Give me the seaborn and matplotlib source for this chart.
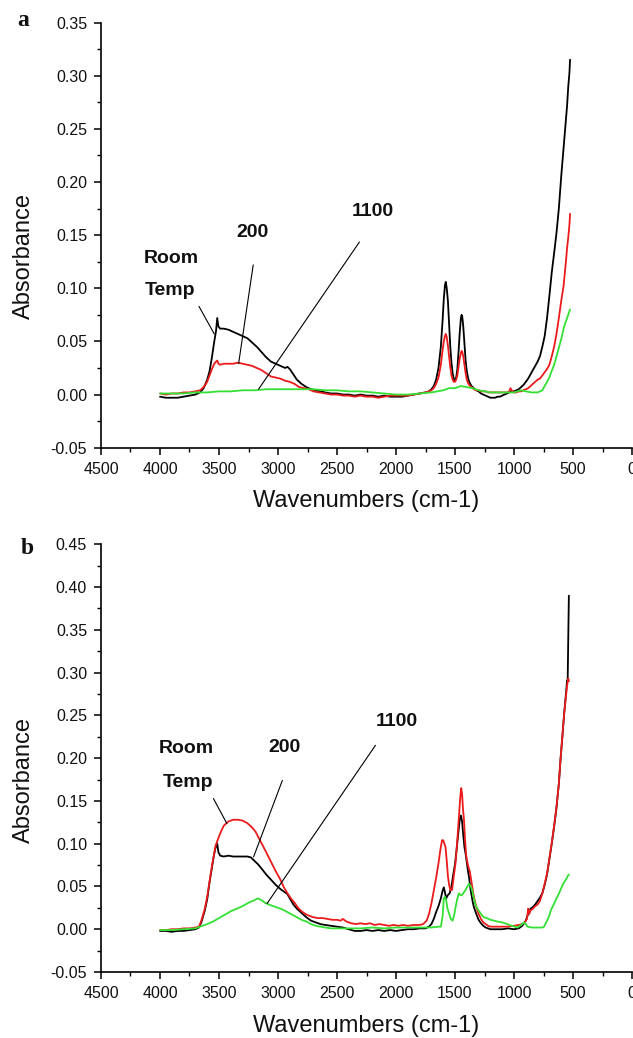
import numpy as np
import pandas as pd
import matplotlib
matplotlib.use("Agg")
import matplotlib.pyplot as plt
from matplotlib.ticker import MultipleLocator, FormatStrFormatter
import seaborn as sns

# ---------------- panel a : absorbance spectra ----------------
a_rt_wn = [4000, 3950, 3900, 3850, 3800, 3750, 3700, 3660, 3630, 3600, 3580, 3560, 3540, 3525, 3515,
           3505, 3490, 3460, 3420, 3380, 3340, 3300, 3260, 3220, 3180, 3140, 3100, 3060, 3020, 2980,
           2940, 2920, 2900, 2870, 2840, 2800, 2760, 2720, 2680, 2640, 2600, 2550, 2500, 2450, 2400,
           2350, 2300, 2250, 2200, 2150, 2100, 2050, 2000, 1950, 1900, 1850, 1800, 1750, 1720, 1700,
           1680, 1660, 1640, 1620, 1605, 1595, 1585, 1578, 1570, 1560, 1550, 1540, 1530, 1520, 1510,
           1500, 1490, 1480, 1470, 1460, 1450, 1444, 1438, 1430, 1420, 1410, 1400, 1390, 1380, 1360,
           1340, 1320, 1300, 1280, 1260, 1240, 1220, 1200, 1180, 1160, 1140, 1120, 1100, 1080, 1060,
           1040, 1020, 1000, 980, 960, 940, 920, 900, 880, 860, 840, 820, 800, 780, 760, 740, 720,
           700, 680, 660, 640, 620, 600, 580, 560, 550, 540, 530, 525]
a_rt_abs = [-0.002, -0.003, -0.003, -0.003, -0.002, -0.001, 0.000, 0.002, 0.006, 0.014, 0.022, 0.035,
            0.050, 0.060, 0.072, 0.064, 0.062, 0.062, 0.061, 0.059, 0.057, 0.055, 0.053, 0.049, 0.045,
            0.040, 0.035, 0.031, 0.029, 0.027, 0.025, 0.026, 0.024, 0.019, 0.014, 0.010, 0.007, 0.005,
            0.004, 0.003, 0.002, 0.001, 0.001, 0.000, 0.000, -0.001, 0.000, -0.001, -0.001, -0.002,
            -0.001, -0.002, -0.002, -0.002, -0.001, 0.000, 0.001, 0.002, 0.003, 0.005, 0.008, 0.014,
            0.025, 0.045, 0.070, 0.090, 0.103, 0.106, 0.100, 0.088, 0.066, 0.045, 0.030, 0.020, 0.015,
            0.013, 0.016, 0.024, 0.040, 0.058, 0.072, 0.075, 0.073, 0.064, 0.048, 0.032, 0.022, 0.016,
            0.012, 0.008, 0.006, 0.004, 0.003, 0.001, 0.000, -0.001, -0.002, -0.003, -0.003, -0.003,
            -0.002, -0.002, -0.001, 0.000, 0.001, 0.002, 0.003, 0.003, 0.004, 0.005, 0.007, 0.009,
            0.012, 0.015, 0.019, 0.023, 0.027, 0.031, 0.036, 0.045, 0.055, 0.072, 0.093, 0.115, 0.133,
            0.152, 0.175, 0.205, 0.232, 0.260, 0.272, 0.290, 0.303, 0.315]

a_200_wn = [4000, 3950, 3900, 3850, 3800, 3750, 3700, 3660, 3630, 3600, 3580, 3560, 3540, 3525, 3515,
            3505, 3490, 3460, 3420, 3380, 3340, 3300, 3260, 3220, 3180, 3140, 3100, 3060, 3020, 2980,
            2940, 2900, 2860, 2820, 2780, 2740, 2700, 2650, 2600, 2550, 2500, 2450, 2400, 2350, 2300,
            2250, 2200, 2150, 2100, 2050, 2000, 1950, 1900, 1850, 1800, 1750, 1720, 1700, 1680, 1660,
            1640, 1620, 1605, 1595, 1585, 1578, 1570, 1560, 1550, 1540, 1530, 1520, 1510, 1500, 1490,
            1480, 1470, 1460, 1450, 1444, 1438, 1430, 1420, 1410, 1400, 1390, 1380, 1360, 1340, 1320,
            1300, 1280, 1260, 1240, 1220, 1200, 1180, 1160, 1140, 1120, 1100, 1080, 1060, 1040, 1030,
            1020, 1000, 980, 960, 940, 920, 900, 880, 860, 840, 820, 800, 780, 760, 740, 720, 700, 680,
            660, 640, 620, 600, 580, 560, 550, 540, 530, 525]
a_200_abs = [0.001, 0.000, 0.001, 0.001, 0.002, 0.002, 0.003, 0.004, 0.007, 0.012, 0.018, 0.024, 0.029,
             0.031, 0.032, 0.029, 0.028, 0.029, 0.029, 0.029, 0.030, 0.029, 0.028, 0.027, 0.025, 0.023,
             0.020, 0.017, 0.016, 0.015, 0.013, 0.012, 0.010, 0.007, 0.006, 0.005, 0.003, 0.002, 0.001,
             0.000, 0.000, -0.001, -0.001, -0.002, -0.001, -0.002, -0.002, -0.003, -0.002, -0.001,
             -0.001, -0.001, -0.001, 0.000, 0.001, 0.002, 0.003, 0.004, 0.006, 0.010, 0.016, 0.028,
             0.042, 0.050, 0.055, 0.057, 0.054, 0.046, 0.036, 0.026, 0.018, 0.014, 0.012, 0.012, 0.014,
             0.018, 0.026, 0.034, 0.039, 0.041, 0.040, 0.036, 0.028, 0.020, 0.014, 0.011, 0.009, 0.007,
             0.005, 0.004, 0.004, 0.003, 0.003, 0.003, 0.002, 0.002, 0.002, 0.002, 0.002, 0.002, 0.002,
             0.002, 0.002, 0.003, 0.006, 0.004, 0.002, 0.002, 0.003, 0.003, 0.004, 0.005, 0.006, 0.008,
             0.010, 0.012, 0.014, 0.015, 0.018, 0.021, 0.024, 0.028, 0.036, 0.045, 0.057, 0.072, 0.088,
             0.102, 0.125, 0.138, 0.148, 0.160, 0.170]

a_1100_wn = [4000, 3900, 3800, 3700, 3600, 3500, 3400, 3300, 3200, 3100, 3000, 2900, 2800, 2700, 2600,
             2500, 2400, 2300, 2200, 2100, 2000, 1900, 1800, 1700, 1650, 1600, 1550, 1500, 1450, 1400,
             1350, 1300, 1250, 1200, 1100, 1000, 940, 900, 850, 800, 760, 745, 720, 700, 688, 660, 632,
             600, 575, 550, 535, 525]
a_1100_abs = [0.001, 0.001, 0.001, 0.002, 0.002, 0.003, 0.003, 0.004, 0.004, 0.005, 0.005, 0.005, 0.005,
              0.005, 0.004, 0.004, 0.003, 0.003, 0.002, 0.001, 0.000, 0.000, 0.001, 0.002, 0.003, 0.004,
              0.006, 0.006, 0.008, 0.007, 0.006, 0.004, 0.003, 0.002, 0.002, 0.002, 0.004, 0.003, 0.002,
              0.002, 0.004, 0.007, 0.012, 0.016, 0.020, 0.028, 0.039, 0.052, 0.064, 0.072, 0.077, 0.080]

# ---------------- panel b : absorbance spectra ----------------
b_rt_wn = [4000, 3950, 3900, 3850, 3800, 3750, 3700, 3670, 3650, 3620, 3600, 3580, 3560, 3545, 3530,
           3515, 3505, 3490, 3460, 3420, 3380, 3340, 3300, 3260, 3230, 3200, 3170, 3140, 3100, 3060,
           3020, 2980, 2940, 2920, 2900, 2870, 2840, 2800, 2760, 2720, 2680, 2640, 2600, 2550, 2500,
           2450, 2400, 2350, 2300, 2250, 2200, 2150, 2100, 2050, 2000, 1950, 1900, 1850, 1800, 1750,
           1720, 1700, 1680, 1660, 1640, 1620, 1605, 1595, 1585, 1575, 1560, 1545, 1530, 1515, 1500,
           1485, 1470, 1460, 1450, 1440, 1430, 1420, 1410, 1400, 1390, 1380, 1370, 1360, 1350, 1340,
           1320, 1300, 1280, 1260, 1240, 1220, 1200, 1150, 1100, 1050, 1000, 960, 930, 900, 880, 860,
           840, 820, 800, 780, 760, 740, 720, 700, 680, 660, 640, 620, 605, 590, 575, 560, 550, 545,
           540, 535]
b_rt_abs = [-0.002, -0.002, -0.003, -0.002, -0.002, -0.001, 0.000, 0.002, 0.008, 0.022, 0.035, 0.055,
            0.072, 0.085, 0.095, 0.100, 0.090, 0.086, 0.085, 0.086, 0.085, 0.085, 0.085, 0.085, 0.084,
            0.080, 0.076, 0.071, 0.064, 0.058, 0.052, 0.047, 0.043, 0.041, 0.036, 0.029, 0.024, 0.019,
            0.014, 0.010, 0.008, 0.006, 0.005, 0.004, 0.003, 0.002, 0.000, -0.002, -0.002, -0.001,
            -0.002, -0.001, -0.002, -0.001, -0.002, -0.001, 0.000, 0.000, 0.001, 0.001, 0.003, 0.006,
            0.012, 0.020, 0.027, 0.036, 0.045, 0.049, 0.043, 0.036, 0.040, 0.042, 0.050, 0.064, 0.076,
            0.095, 0.115, 0.128, 0.133, 0.126, 0.110, 0.096, 0.088, 0.078, 0.068, 0.060, 0.048, 0.040,
            0.032, 0.026, 0.018, 0.011, 0.007, 0.004, 0.002, 0.001, 0.000, 0.000, 0.000, 0.001, 0.000,
            0.001, 0.004, 0.010, 0.018, 0.024, 0.026, 0.029, 0.033, 0.037, 0.042, 0.052, 0.064, 0.082,
            0.100, 0.120, 0.142, 0.170, 0.200, 0.225, 0.252, 0.275, 0.291, 0.292, 0.342, 0.390]

b_200_wn = [4000, 3950, 3900, 3850, 3800, 3750, 3700, 3670, 3650, 3620, 3600, 3580, 3560, 3545, 3530,
            3515, 3490, 3460, 3420, 3380, 3340, 3300, 3260, 3220, 3190, 3160, 3130, 3100, 3060, 3020,
            2980, 2950, 2920, 2890, 2860, 2830, 2800, 2770, 2740, 2700, 2660, 2620, 2580, 2540, 2500,
            2470, 2450, 2420, 2380, 2340, 2300, 2260, 2220, 2180, 2140, 2100, 2060, 2020, 1980, 1940,
            1900, 1850, 1800, 1770, 1740, 1720, 1700, 1680, 1660, 1640, 1625, 1610, 1600, 1590, 1580,
            1570, 1560, 1550, 1540, 1525, 1510, 1495, 1480, 1465, 1455, 1447, 1440, 1432, 1424, 1415,
            1405, 1395, 1385, 1375, 1360, 1345, 1330, 1315, 1300, 1280, 1260, 1240, 1220, 1200, 1150,
            1100, 1056, 1000, 960, 930, 910, 890, 880, 870, 860, 840, 820, 800, 780, 760, 740, 720, 700,
            680, 660, 640, 620, 605, 590, 575, 560, 550, 540, 535]
b_200_abs = [-0.001, -0.001, 0.000, 0.000, 0.001, 0.001, 0.002, 0.003, 0.010, 0.024, 0.038, 0.056,
             0.074, 0.085, 0.097, 0.103, 0.112, 0.121, 0.126, 0.128, 0.128, 0.127, 0.124, 0.119, 0.114,
             0.106, 0.098, 0.090, 0.079, 0.068, 0.058, 0.049, 0.042, 0.036, 0.031, 0.025, 0.021, 0.018,
             0.016, 0.014, 0.013, 0.013, 0.012, 0.011, 0.011, 0.010, 0.012, 0.009, 0.007, 0.006, 0.007,
             0.006, 0.007, 0.005, 0.006, 0.005, 0.004, 0.005, 0.004, 0.005, 0.004, 0.005, 0.005, 0.006,
             0.010, 0.018, 0.030, 0.045, 0.060, 0.077, 0.092, 0.104, 0.104, 0.100, 0.096, 0.080, 0.062,
             0.052, 0.046, 0.046, 0.062, 0.078, 0.105, 0.135, 0.155, 0.165, 0.158, 0.140, 0.128, 0.105,
             0.086, 0.078, 0.072, 0.068, 0.055, 0.042, 0.032, 0.024, 0.018, 0.012, 0.008, 0.006, 0.004,
             0.003, 0.003, 0.003, 0.003, 0.004, 0.005, 0.006, 0.008, 0.012, 0.024, 0.018, 0.022, 0.024,
             0.027, 0.029, 0.033, 0.042, 0.053, 0.065, 0.083, 0.101, 0.121, 0.143, 0.170, 0.200, 0.226,
             0.252, 0.272, 0.285, 0.293, 0.290]

b_1100_wn = [4000, 3900, 3800, 3700, 3660, 3600, 3550, 3500, 3450, 3400, 3350, 3300, 3250, 3200, 3170,
             3140, 3110, 3080, 3040, 3000, 2960, 2920, 2880, 2840, 2800, 2760, 2720, 2680, 2640, 2600,
             2550, 2500, 2450, 2400, 2300, 2200, 2100, 2000, 1900, 1800, 1700, 1640, 1620, 1605, 1595,
             1585, 1575, 1565, 1550, 1535, 1520, 1505, 1495, 1480, 1467, 1455, 1440, 1425, 1410, 1395,
             1382, 1370, 1355, 1340, 1325, 1310, 1290, 1270, 1255, 1230, 1200, 1170, 1140, 1100, 1056,
             1020, 990, 970, 940, 915, 900, 886, 850, 800, 760, 745, 720, 700, 688, 660, 640, 618, 600,
             580, 560, 545, 535]
b_1100_abs = [-0.001, -0.001, 0.000, 0.001, 0.003, 0.006, 0.009, 0.013, 0.017, 0.021, 0.024, 0.027,
              0.031, 0.034, 0.036, 0.034, 0.031, 0.029, 0.027, 0.025, 0.023, 0.020, 0.017, 0.014, 0.011,
              0.009, 0.006, 0.004, 0.003, 0.002, 0.001, 0.001, 0.001, 0.001, 0.001, 0.002, 0.001, 0.002,
              0.002, 0.002, 0.002, 0.003, 0.003, 0.015, 0.036, 0.038, 0.034, 0.025, 0.018, 0.012, 0.010,
              0.018, 0.026, 0.036, 0.042, 0.040, 0.040, 0.043, 0.046, 0.050, 0.053, 0.051, 0.046, 0.036,
              0.028, 0.024, 0.020, 0.016, 0.014, 0.013, 0.011, 0.010, 0.009, 0.008, 0.006, 0.004, 0.003,
              0.002, 0.005, 0.008, 0.006, 0.003, 0.002, 0.002, 0.002, 0.003, 0.010, 0.016, 0.022, 0.030,
              0.036, 0.042, 0.048, 0.054, 0.058, 0.062, 0.064]

SERIES = ["Room Temp", "200", "1100"]
COLORS = {"Room Temp": "#000000", "200": "#ec1b1b", "1100": "#33e033"}


def long_frame(parts):
    frames = []
    for name, wn, ab in parts:
        frames.append(pd.DataFrame({"wavenumber": wn, "absorbance": ab, "series": name}))
    return pd.concat(frames, ignore_index=True)


panel_a = long_frame([("Room Temp", a_rt_wn, a_rt_abs), ("200", a_200_wn, a_200_abs),
                      ("1100", a_1100_wn, a_1100_abs)])
panel_b = long_frame([("Room Temp", b_rt_wn, b_rt_abs), ("200", b_200_wn, b_200_abs),
                      ("1100", b_1100_wn, b_1100_abs)])

sns.set_theme(style="white")
plt.rcParams["font.family"] = ["Liberation Sans", "DejaVu Sans"]
plt.rcParams["axes.unicode_minus"] = False

W, H = 633, 1038
fig = plt.figure(figsize=(W / 100, H / 100), dpi=100)
fig.patch.set_facecolor("white")

ax_a = fig.add_axes([101 / W, 1 - 447.7 / H, 531 / W, (447.7 - 22.5) / H])
ax_b = fig.add_axes([101 / W, 1 - 972 / H, 531 / W, (972 - 544.3) / H])


def style_axes(ax, ymax):
    ax.set_xlim(4500, 0)
    ax.set_ylim(-0.05, ymax)
    ax.xaxis.set_major_locator(MultipleLocator(500))
    ax.xaxis.set_minor_locator(MultipleLocator(250))
    ax.yaxis.set_major_locator(MultipleLocator(0.05))
    ax.yaxis.set_minor_locator(MultipleLocator(0.025))
    ax.yaxis.set_major_formatter(FormatStrFormatter("%.2f"))
    for side in ("top", "right"):
        ax.spines[side].set_visible(False)
    for side in ("left", "bottom"):
        ax.spines[side].set_color("black")
        ax.spines[side].set_linewidth(1.2)
    ax.tick_params(axis="both", which="major", direction="out", length=5, width=1.1,
                   color="black", labelsize=11.5, labelcolor="#111111", pad=5,
                   bottom=True, left=True)
    ax.tick_params(axis="both", which="minor", direction="out", length=3, width=1.0,
                   color="black", bottom=True, left=True)
    ax.set_xlabel("Wavenumbers (cm-1)", fontsize=17, color="#111111", labelpad=10)
    ax.set_ylabel("Absorbance", fontsize=17, color="#111111")
    # the y label sits a little below the middle of the axis, close to the figure edge
    ax.yaxis.set_label_coords(-0.125, 0.45)
    ax.grid(False)


for ax, data, ymax in ((ax_a, panel_a, 0.35), (ax_b, panel_b, 0.45)):
    sns.lineplot(data=data, x="wavenumber", y="absorbance", hue="series", hue_order=SERIES,
                 palette=COLORS, estimator=None, sort=False, linewidth=1.3, legend=False, ax=ax)
    style_axes(ax, ymax)

label_kw = dict(fontsize=14, fontweight="bold", ha="center", va="center", color="#111111")
lead_kw = dict(color="black", linewidth=0.8)

# panel a labels and leader lines
ax_a.text(3906, 0.128, "Room", **label_kw)
ax_a.text(3914, 0.098, "Temp", **label_kw)
ax_a.text(3218, 0.152, "200", **label_kw)
ax_a.text(2200, 0.172, "1100", **label_kw)
ax_a.plot([3670, 3540], [0.083, 0.057], **lead_kw)
ax_a.plot([3210, 3334], [0.122, 0.029], **lead_kw)
ax_a.plot([2310, 3165], [0.1435, 0.005], **lead_kw)

# panel b labels and leader lines
ax_b.text(3778, 0.211, "Room", **label_kw)
ax_b.text(3761, 0.172, "Temp", **label_kw)
ax_b.text(2947, 0.2126, "200", **label_kw)
ax_b.text(1996, 0.243, "1100", **label_kw)
ax_b.plot([3547, 3433], [0.1527, 0.1235], **lead_kw)
ax_b.plot([2963, 3207], [0.174, 0.0845], **lead_kw)
ax_b.plot([2174, 3093], [0.215, 0.030], **lead_kw)

panel_kw = dict(fontsize=17, fontweight="bold", family="Liberation Serif",
                ha="center", va="center", color="#111111")
fig.text(23 / W, 1 - 21 / H, "a", **panel_kw)
fig.text(27 / W, 1 - 548 / H, "b", **panel_kw)

fig.savefig("out.png", dpi=100, facecolor="white")
